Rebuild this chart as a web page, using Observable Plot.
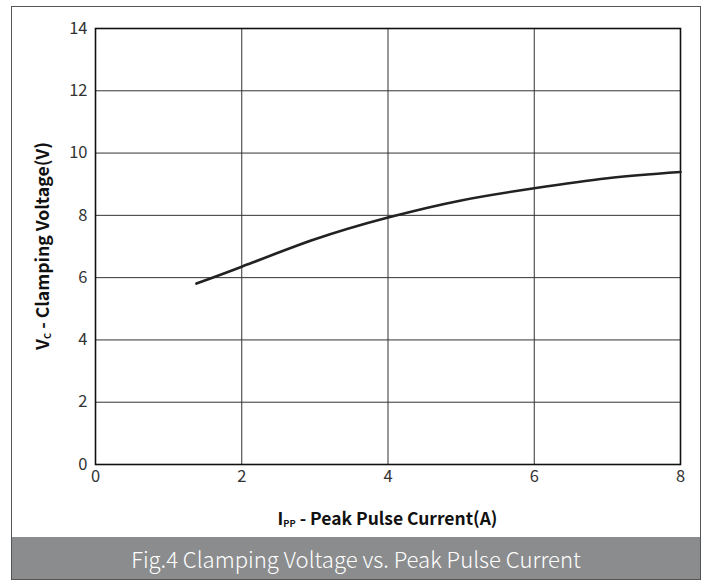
<!DOCTYPE html>
<html>
<head>
<meta charset="utf-8">
<script src="https://cdn.jsdelivr.net/npm/d3@7"></script>
<script src="https://cdn.jsdelivr.net/npm/@observablehq/plot@0.6"></script>
<style>
  html, body { margin: 0; padding: 0; background: #fff; }
  #wrap { position: relative; width: 712px; height: 581px; overflow: hidden; }
  #frame { position: absolute; left: 11px; top: 6px; width: 688px; height: 572px; border: 1.5px solid #555; box-sizing: content-box; pointer-events: none; }
  #chart { position: absolute; left: 0; top: 0; }
  #caption { position: absolute; left: 12px; top: 537px; width: 688px; height: 42px; background: #8b8c8e; color: #fff;
    font-family: "Noto Sans CJK SC", "Noto Sans", sans-serif; font-weight: 300; font-size: 21px; line-height: 42px; text-align: center; white-space: nowrap; }
  #caption span { display: inline-block; }
  #chart svg g[aria-label="x-axis tick label"] text,
  #chart svg g[aria-label="y-axis tick label"] text { font-size: 16.5px; fill: #333; }
</style>
</head>
<body>
<div id="wrap">
  <div id="chart"></div>
  <div id="frame"></div>
  <div id="caption"><span id="captext">Fig.4 Clamping Voltage vs. Peak Pulse Current</span></div>
</div>
<script>
const current = [1.38, 2, 3, 4, 5, 6, 7, 8];
const voltage = [5.81, 6.35, 7.23, 7.93, 8.48, 8.87, 9.19, 9.39];
const xTicks = [0, 2, 4, 6, 8];
const yTicks = [0, 2, 4, 6, 8, 10, 12, 14];

const data = current.map((c, i) => ({ x: c, y: voltage[i] }));
const font = '"Noto Sans CJK SC", "Noto Sans", sans-serif';

const plot = Plot.plot({
  width: 712,
  height: 537,
  marginLeft: 95,
  marginRight: 32,
  marginTop: 28,
  marginBottom: 73,
  style: { fontFamily: font, fontSize: "16.5px", color: "#333", background: "transparent" },
  x: { domain: [0, 8], ticks: xTicks, label: null },
  y: { domain: [0, 14], ticks: yTicks, label: null },
  marks: [
    Plot.ruleX(xTicks, { stroke: "#333", strokeWidth: 1 }),
    Plot.ruleY(yTicks, { stroke: "#333", strokeWidth: 1 }),
    Plot.frame({ stroke: "#111", strokeWidth: 1.6 }),
    Plot.axisX({ ticks: xTicks, tickSize: 0, tickPadding: 6, label: null }),
    Plot.axisY({ ticks: yTicks, tickSize: 0, tickPadding: 8, label: null }),
    Plot.line(data, { x: "x", y: "y", curve: "natural", stroke: "#222", strokeWidth: 2.6 })
  ]
});
document.getElementById("chart").appendChild(plot);

const svg = d3.select(plot);
const xs = plot.scale("x"), ys = plot.scale("y");
const cx = (xs.apply(0) + xs.apply(8)) / 2;
const cy = (ys.apply(0) + ys.apply(14)) / 2;

function fitText(sel, base, target) {
  const w = sel.node().getComputedTextLength();
  if (w > 0) {
    const k = target / w;
    sel.attr("font-size", base * k);
    sel.selectAll("tspan.sub").attr("font-size", 8.5 * k);
  }
}

const xl = svg.append("text")
  .attr("x", cx).attr("y", 525)
  .attr("text-anchor", "middle")
  .attr("font-family", font).attr("font-weight", "bold").attr("font-size", 16).attr("fill", "#111");
xl.append("tspan").text("I");
xl.append("tspan").attr("class", "sub").attr("font-size", 8.5).attr("dy", 2).text("PP");
xl.append("tspan").attr("dy", -2).text(" - Peak Pulse Current(A)");
fitText(xl, 16, 220);

const yl = svg.append("text")
  .attr("transform", `translate(49,${cy}) rotate(-90)`)
  .attr("text-anchor", "middle")
  .attr("font-family", font).attr("font-weight", "bold").attr("font-size", 16).attr("fill", "#111");
yl.append("tspan").text("V");
yl.append("tspan").attr("class", "sub").attr("font-size", 8.5).attr("dy", 2).text("C");
yl.append("tspan").attr("dy", -2).text(" - Clamping Voltage(V)");
fitText(yl, 16, 208);

const cap = document.getElementById("captext");
const cw = cap.getBoundingClientRect().width;
if (cw > 0) {
  document.getElementById("caption").style.fontSize = (21 * 450 / cw) + "px";
}
</script>
</body>
</html>
